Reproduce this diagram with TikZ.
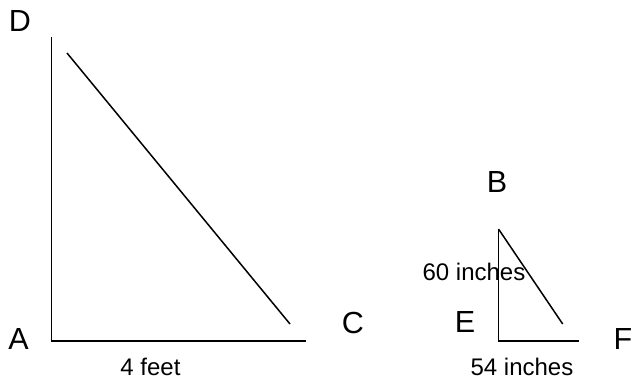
\documentclass[tikz,border=0pt]{standalone}
\usepackage{fontspec}
\setmainfont{Liberation Sans}
\begin{document}
\begin{tikzpicture}[x=1pt,y=-1pt,
  vlabel/.style={inner sep=0pt,font=\fontsize{30.5}{30.5}\selectfont},
  mlabel/.style={inner sep=0pt,font=\fontsize{24}{24}\selectfont},
  leg/.style={line width=1.8pt},
  hyp/.style={line width=1.5pt}]
\useasboundingbox (0,0) rectangle (633,381);
% big triangle
\coordinate (Atop) at (51.5,37);
\coordinate (Acorner) at (51.5,340.7);
\coordinate (Aright) at (306,340.7);
\coordinate (Dh) at (67,53);
\coordinate (Ch) at (290,324);
\draw[leg] (Atop) -- (Acorner) -- (Aright);
\draw[hyp] (Dh) -- (Ch);
\node[vlabel] (D) at (20,21) {D};
\node[vlabel] (A) at (18.5,339.5) {A};
\node[vlabel] (C) at (353,323) {C};
\node[mlabel] (feet) at (150.5,367) {4 feet};
% small triangle
\coordinate (Etop) at (498.5,229);
\coordinate (Ecorner) at (498.5,340.7);
\coordinate (Eright) at (579,340.7);
\coordinate (Fh) at (562.7,324);
\draw[leg] (Etop) -- (Ecorner) -- (Eright);
\draw[hyp] (Etop) -- (Fh);
\node[vlabel] (B) at (497,182) {B};
\node[vlabel] (E) at (465,322) {E};
\node[vlabel] (F) at (623,339) {F};
\node[mlabel] (sixty) at (474,271.5) {60 inches};
\node[mlabel] (fiftyfour) at (522,366.5) {54 inches};
\end{tikzpicture}
\end{document}
